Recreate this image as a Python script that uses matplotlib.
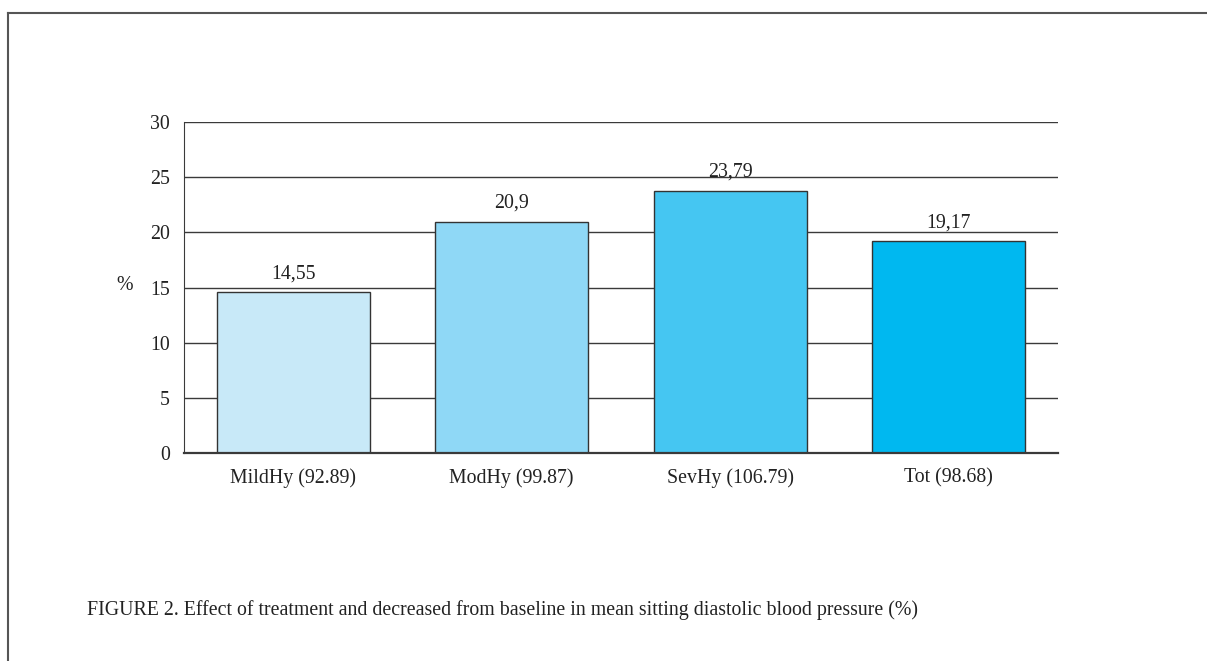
import matplotlib
matplotlib.use("Agg")
import matplotlib.pyplot as plt
from matplotlib.lines import Line2D

categories = ["MildHy (92.89)", "ModHy (99.87)", "SevHy (106.79)", "Tot (98.68)"]
values = [14.55, 20.9, 23.79, 19.17]
value_labels = ["14,55", "20,9", "23,79", "19,17"]
colors = ["#c8e9f8", "#8fd8f6", "#45c6f2", "#00b8f0"]
yticks = [0, 5, 10, 15, 20, 25, 30]

plt.rcParams["font.family"] = ["Liberation Serif", "DejaVu Serif"]
TXT = "#222222"
LINE = "#3a3a3a"
FS = 14.3

fig = plt.figure(figsize=(12.07, 6.61), dpi=100)
ax = fig.add_axes([0.1524, 0.3147, 0.7242, 0.5007])

x = list(range(len(categories)))
ax.set_axisbelow(True)
ax.yaxis.grid(True, color=LINE, linewidth=1.0)
bars = ax.bar(x, values, width=0.70, color=colors, edgecolor="#333333", linewidth=1.0, zorder=2)
for b, lab in zip(bars, value_labels):
    ax.text(b.get_x() + b.get_width() / 2, b.get_height() + 0.85, lab,
            ha="center", va="bottom", fontsize=FS, color=TXT)

ax.set_xlim(-0.5, 3.5)
ax.set_ylim(0, 30)
ax.set_yticks(yticks)
ax.set_xticks(x)
ax.set_xticklabels(categories)
ax.tick_params(axis="y", length=0, labelsize=FS, colors=TXT, pad=10)
ax.tick_params(axis="x", length=0, labelsize=FS, colors=TXT, pad=11)
for s in ["top", "right"]:
    ax.spines[s].set_visible(False)
ax.spines["left"].set_color(LINE)
ax.spines["bottom"].set_color(LINE)
ax.spines["bottom"].set_linewidth(1.6)

fig.text(125 / 1207, 1 - 286 / 661, "%", fontsize=FS, color=TXT, ha="center", va="center")
fig.text(87 / 1207, 1 - 610 / 661,
         "FIGURE 2. Effect of treatment and decreased from baseline in mean sitting diastolic blood pressure (%)",
         fontsize=FS, color=TXT, ha="left", va="center")

# page frame lines (top and left)
fig.add_artist(Line2D([8 / 1207, 1.0], [1 - 13 / 661, 1 - 13 / 661], color="#555555", linewidth=1.5,
                      transform=fig.transFigure))
fig.add_artist(Line2D([8 / 1207, 8 / 1207], [0, 1 - 13 / 661], color="#555555", linewidth=1.5,
                      transform=fig.transFigure))

fig.savefig("out.png", dpi=100)
